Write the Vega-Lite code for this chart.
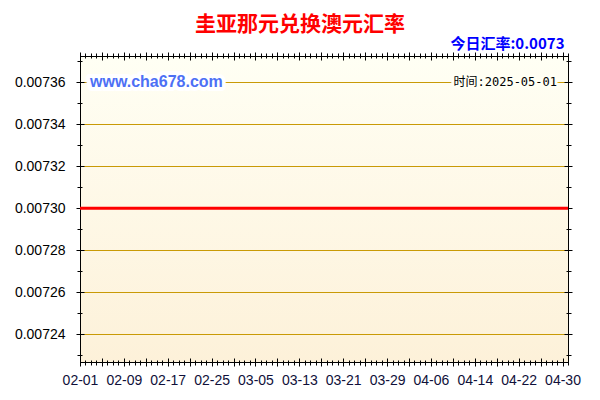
{
  "$schema": "https://vega.github.io/schema/vega-lite/v6.json",
  "description": "Guyana dollar to Australian dollar exchange rate, Feb-Apr 2025",
  "width": 488,
  "height": 306,
  "autosize": "none",
  "padding": {"left": 80, "top": 56, "right": 32, "bottom": 38},
  "background": "white",
  "title": {
    "text": "圭亚那元兑换澳元汇率",
    "font": "Noto Sans CJK SC",
    "fontSize": 21,
    "fontWeight": "bold",
    "color": "#ff0000",
    "anchor": "middle",
    "frame": "group",
    "dx": -24,
    "offset": 2
  },
  "data": {
    "values": [
      {"date": "2025-02-01", "rate": 0.0073}, {"date": "2025-02-02", "rate": 0.0073}, {"date": "2025-02-03", "rate": 0.0073},
      {"date": "2025-02-04", "rate": 0.0073}, {"date": "2025-02-05", "rate": 0.0073}, {"date": "2025-02-06", "rate": 0.0073},
      {"date": "2025-02-07", "rate": 0.0073}, {"date": "2025-02-08", "rate": 0.0073}, {"date": "2025-02-09", "rate": 0.0073},
      {"date": "2025-02-10", "rate": 0.0073}, {"date": "2025-02-11", "rate": 0.0073}, {"date": "2025-02-12", "rate": 0.0073},
      {"date": "2025-02-13", "rate": 0.0073}, {"date": "2025-02-14", "rate": 0.0073}, {"date": "2025-02-15", "rate": 0.0073},
      {"date": "2025-02-16", "rate": 0.0073}, {"date": "2025-02-17", "rate": 0.0073}, {"date": "2025-02-18", "rate": 0.0073},
      {"date": "2025-02-19", "rate": 0.0073}, {"date": "2025-02-20", "rate": 0.0073}, {"date": "2025-02-21", "rate": 0.0073},
      {"date": "2025-02-22", "rate": 0.0073}, {"date": "2025-02-23", "rate": 0.0073}, {"date": "2025-02-24", "rate": 0.0073},
      {"date": "2025-02-25", "rate": 0.0073}, {"date": "2025-02-26", "rate": 0.0073}, {"date": "2025-02-27", "rate": 0.0073},
      {"date": "2025-02-28", "rate": 0.0073}, {"date": "2025-03-01", "rate": 0.0073}, {"date": "2025-03-02", "rate": 0.0073},
      {"date": "2025-03-03", "rate": 0.0073}, {"date": "2025-03-04", "rate": 0.0073}, {"date": "2025-03-05", "rate": 0.0073},
      {"date": "2025-03-06", "rate": 0.0073}, {"date": "2025-03-07", "rate": 0.0073}, {"date": "2025-03-08", "rate": 0.0073},
      {"date": "2025-03-09", "rate": 0.0073}, {"date": "2025-03-10", "rate": 0.0073}, {"date": "2025-03-11", "rate": 0.0073},
      {"date": "2025-03-12", "rate": 0.0073}, {"date": "2025-03-13", "rate": 0.0073}, {"date": "2025-03-14", "rate": 0.0073},
      {"date": "2025-03-15", "rate": 0.0073}, {"date": "2025-03-16", "rate": 0.0073}, {"date": "2025-03-17", "rate": 0.0073},
      {"date": "2025-03-18", "rate": 0.0073}, {"date": "2025-03-19", "rate": 0.0073}, {"date": "2025-03-20", "rate": 0.0073},
      {"date": "2025-03-21", "rate": 0.0073}, {"date": "2025-03-22", "rate": 0.0073}, {"date": "2025-03-23", "rate": 0.0073},
      {"date": "2025-03-24", "rate": 0.0073}, {"date": "2025-03-25", "rate": 0.0073}, {"date": "2025-03-26", "rate": 0.0073},
      {"date": "2025-03-27", "rate": 0.0073}, {"date": "2025-03-28", "rate": 0.0073}, {"date": "2025-03-29", "rate": 0.0073},
      {"date": "2025-03-30", "rate": 0.0073}, {"date": "2025-03-31", "rate": 0.0073}, {"date": "2025-04-01", "rate": 0.0073},
      {"date": "2025-04-02", "rate": 0.0073}, {"date": "2025-04-03", "rate": 0.0073}, {"date": "2025-04-04", "rate": 0.0073},
      {"date": "2025-04-05", "rate": 0.0073}, {"date": "2025-04-06", "rate": 0.0073}, {"date": "2025-04-07", "rate": 0.0073},
      {"date": "2025-04-08", "rate": 0.0073}, {"date": "2025-04-09", "rate": 0.0073}, {"date": "2025-04-10", "rate": 0.0073},
      {"date": "2025-04-11", "rate": 0.0073}, {"date": "2025-04-12", "rate": 0.0073}, {"date": "2025-04-13", "rate": 0.0073},
      {"date": "2025-04-14", "rate": 0.0073}, {"date": "2025-04-15", "rate": 0.0073}, {"date": "2025-04-16", "rate": 0.0073},
      {"date": "2025-04-17", "rate": 0.0073}, {"date": "2025-04-18", "rate": 0.0073}, {"date": "2025-04-19", "rate": 0.0073},
      {"date": "2025-04-20", "rate": 0.0073}, {"date": "2025-04-21", "rate": 0.0073}, {"date": "2025-04-22", "rate": 0.0073},
      {"date": "2025-04-23", "rate": 0.0073}, {"date": "2025-04-24", "rate": 0.0073}, {"date": "2025-04-25", "rate": 0.0073},
      {"date": "2025-04-26", "rate": 0.0073}, {"date": "2025-04-27", "rate": 0.0073}, {"date": "2025-04-28", "rate": 0.0073},
      {"date": "2025-04-29", "rate": 0.0073}, {"date": "2025-04-30", "rate": 0.0073}, {"date": "2025-05-01", "rate": 0.0073}
    ]
  },
  "resolve": {"axis": {"x": "independent", "y": "independent"}},
  "layer": [
    {
      "mark": {"type": "line", "color": "#ff0000", "strokeWidth": 3, "clip": true},
      "encoding": {
        "x": {
          "field": "date", "type": "temporal",
          "scale": {"type": "utc", "domain": [{"year": 2025, "month": 2, "date": 1, "utc": true}, {"year": 2025, "month": 5, "date": 1, "utc": true}]},
          "axis": {
            "orient": "bottom", "title": null, "offset": -4, "tickSize": 8,
            "values": [
              {"year": 2025, "month": 2, "date": 1, "utc": true}, {"year": 2025, "month": 2, "date": 5, "utc": true},
              {"year": 2025, "month": 2, "date": 9, "utc": true}, {"year": 2025, "month": 2, "date": 13, "utc": true},
              {"year": 2025, "month": 2, "date": 17, "utc": true}, {"year": 2025, "month": 2, "date": 21, "utc": true},
              {"year": 2025, "month": 2, "date": 25, "utc": true}, {"year": 2025, "month": 3, "date": 1, "utc": true},
              {"year": 2025, "month": 3, "date": 5, "utc": true}, {"year": 2025, "month": 3, "date": 9, "utc": true},
              {"year": 2025, "month": 3, "date": 13, "utc": true}, {"year": 2025, "month": 3, "date": 17, "utc": true},
              {"year": 2025, "month": 3, "date": 21, "utc": true}, {"year": 2025, "month": 3, "date": 25, "utc": true},
              {"year": 2025, "month": 3, "date": 29, "utc": true}, {"year": 2025, "month": 4, "date": 2, "utc": true},
              {"year": 2025, "month": 4, "date": 6, "utc": true}, {"year": 2025, "month": 4, "date": 10, "utc": true},
              {"year": 2025, "month": 4, "date": 14, "utc": true}, {"year": 2025, "month": 4, "date": 18, "utc": true},
              {"year": 2025, "month": 4, "date": 22, "utc": true}, {"year": 2025, "month": 4, "date": 26, "utc": true},
              {"year": 2025, "month": 4, "date": 30, "utc": true}
            ],
            "format": "%m-%d",
            "labelExpr": "round((datum.value - utc(2025, 1, 1)) / 86400000) % 8 === 0 ? datum.label : ''",
            "labelFont": "Liberation Sans", "labelFontSize": 14, "labelColor": "#10103a",
            "labelPadding": 7, "labelOverlap": false, "labelFlush": false,
            "grid": false
          }
        },
        "y": {
          "field": "rate", "type": "quantitative",
          "scale": {"domain": [0.0072268, 0.0073725], "nice": false, "zero": false},
          "axis": {
            "orient": "left", "title": null, "offset": -4, "tickSize": 8,
            "values": [0.00724, 0.00726, 0.00728, 0.0073, 0.00732, 0.00734, 0.00736],
            "format": ".5f",
            "labelFont": "Liberation Sans", "labelFontSize": 14, "labelColor": "#000000",
            "labelPadding": 11,
            "grid": true, "gridColor": "#c99a06", "gridWidth": 1, "gridOpacity": 1
          }
        }
      }
    },
    {
      "data": {"values": [{"date": "2025-02-01", "rate": 0.00736, "note": "www.cha678.com"}]},
      "mark": {"type": "text", "align": "left", "baseline": "middle", "dx": 10, "font": "Liberation Sans", "fontSize": 16, "fontWeight": "bold", "fill": "white", "stroke": "white", "strokeWidth": 8, "strokeJoin": "round"},
      "encoding": {
        "x": {
          "field": "date", "type": "temporal",
          "scale": {"type": "utc", "domain": [{"year": 2025, "month": 2, "date": 1, "utc": true}, {"year": 2025, "month": 5, "date": 1, "utc": true}]},
          "axis": {"orient": "bottom", "title": null, "offset": -2, "tickSize": 5, "labels": false, "grid": false, "tickCount": {"interval": "day", "step": 1}}
        },
        "y": {
          "field": "rate", "type": "quantitative",
          "scale": {"domain": [0.0072268, 0.0073725], "nice": false, "zero": false},
          "axis": {"orient": "left", "title": null, "offset": -2, "tickSize": 5, "labels": false, "grid": false, "values": [0.00723, 0.00725, 0.00727, 0.00729, 0.00731, 0.00733, 0.00735, 0.00737]}
        },
        "text": {"field": "note"}
      }
    },
    {
      "data": {"values": [{"date": "2025-02-01", "rate": 0.00736, "note": "www.cha678.com"}]},
      "mark": {"type": "text", "align": "left", "baseline": "middle", "dx": 10, "font": "Liberation Sans", "fontSize": 16, "fontWeight": "bold", "color": "#4d70f5"},
      "encoding": {
        "x": {
          "field": "date", "type": "temporal",
          "scale": {"type": "utc", "domain": [{"year": 2025, "month": 2, "date": 1, "utc": true}, {"year": 2025, "month": 5, "date": 1, "utc": true}]},
          "axis": {
            "orient": "top", "offset": -4, "tickSize": 8, "labels": false, "grid": false,
            "values": [
              {"year": 2025, "month": 2, "date": 1, "utc": true}, {"year": 2025, "month": 2, "date": 5, "utc": true},
              {"year": 2025, "month": 2, "date": 9, "utc": true}, {"year": 2025, "month": 2, "date": 13, "utc": true},
              {"year": 2025, "month": 2, "date": 17, "utc": true}, {"year": 2025, "month": 2, "date": 21, "utc": true},
              {"year": 2025, "month": 2, "date": 25, "utc": true}, {"year": 2025, "month": 3, "date": 1, "utc": true},
              {"year": 2025, "month": 3, "date": 5, "utc": true}, {"year": 2025, "month": 3, "date": 9, "utc": true},
              {"year": 2025, "month": 3, "date": 13, "utc": true}, {"year": 2025, "month": 3, "date": 17, "utc": true},
              {"year": 2025, "month": 3, "date": 21, "utc": true}, {"year": 2025, "month": 3, "date": 25, "utc": true},
              {"year": 2025, "month": 3, "date": 29, "utc": true}, {"year": 2025, "month": 4, "date": 2, "utc": true},
              {"year": 2025, "month": 4, "date": 6, "utc": true}, {"year": 2025, "month": 4, "date": 10, "utc": true},
              {"year": 2025, "month": 4, "date": 14, "utc": true}, {"year": 2025, "month": 4, "date": 18, "utc": true},
              {"year": 2025, "month": 4, "date": 22, "utc": true}, {"year": 2025, "month": 4, "date": 26, "utc": true},
              {"year": 2025, "month": 4, "date": 30, "utc": true}
            ],
            "title": "今日汇率:0.0073",
            "titleFont": "Noto Sans CJK SC", "titleFontSize": 15, "titleFontWeight": "bold", "titleColor": "#0000ff",
            "titleX": 484, "titleAlign": "right", "titleBaseline": "alphabetic", "titlePadding": 3
          }
        },
        "y": {
          "field": "rate", "type": "quantitative",
          "scale": {"domain": [0.0072268, 0.0073725], "nice": false, "zero": false},
          "axis": {"orient": "right", "title": null, "offset": -4, "tickSize": 8, "labels": false, "grid": false, "values": [0.00724, 0.00726, 0.00728, 0.0073, 0.00732, 0.00734, 0.00736]}
        },
        "text": {"field": "note"}
      }
    },
    {
      "data": {"values": [{"date": "2025-05-01", "rate": 0.00736, "note": "时间:2025-05-01"}]},
      "mark": {"type": "text", "align": "right", "baseline": "middle", "dx": -11, "font": "DejaVu Sans Mono, Noto Sans CJK SC", "fontSize": 12, "fill": "#fffff4", "stroke": "#fffff4", "strokeWidth": 6, "strokeJoin": "round"},
      "encoding": {
        "x": {
          "field": "date", "type": "temporal",
          "scale": {"type": "utc", "domain": [{"year": 2025, "month": 2, "date": 1, "utc": true}, {"year": 2025, "month": 5, "date": 1, "utc": true}]},
          "axis": {"orient": "top", "title": null, "offset": -2, "tickSize": 5, "labels": false, "grid": false, "tickCount": {"interval": "day", "step": 1}}
        },
        "y": {
          "field": "rate", "type": "quantitative",
          "scale": {"domain": [0.0072268, 0.0073725], "nice": false, "zero": false},
          "axis": {"orient": "right", "title": null, "offset": -2, "tickSize": 5, "labels": false, "grid": false, "values": [0.00723, 0.00725, 0.00727, 0.00729, 0.00731, 0.00733, 0.00735, 0.00737]}
        },
        "text": {"field": "note"}
      }
    },
    {
      "data": {"values": [{"date": "2025-05-01", "rate": 0.00736, "note": "时间:2025-05-01"}]},
      "mark": {"type": "text", "align": "right", "baseline": "middle", "dx": -11, "font": "DejaVu Sans Mono, Noto Sans CJK SC", "fontSize": 12, "color": "#000000"},
      "encoding": {
        "x": {
          "field": "date", "type": "temporal",
          "scale": {"type": "utc", "domain": [{"year": 2025, "month": 2, "date": 1, "utc": true}, {"year": 2025, "month": 5, "date": 1, "utc": true}]},
          "axis": null
        },
        "y": {
          "field": "rate", "type": "quantitative",
          "scale": {"domain": [0.0072268, 0.0073725], "nice": false, "zero": false},
          "axis": null
        },
        "text": {"field": "note"}
      }
    }
  ],
  "config": {
    "view": {
      "stroke": "#000000",
      "strokeWidth": 1,
      "fill": {
        "gradient": "linear", "x1": 0, "y1": 0, "x2": 0, "y2": 1,
        "stops": [{"offset": 0, "color": "#fffff4"}, {"offset": 1, "color": "#fdf1d9"}]
      }
    },
    "axis": {"domain": false, "tickColor": "#000000", "tickWidth": 1, "ticks": true}
  }
}
